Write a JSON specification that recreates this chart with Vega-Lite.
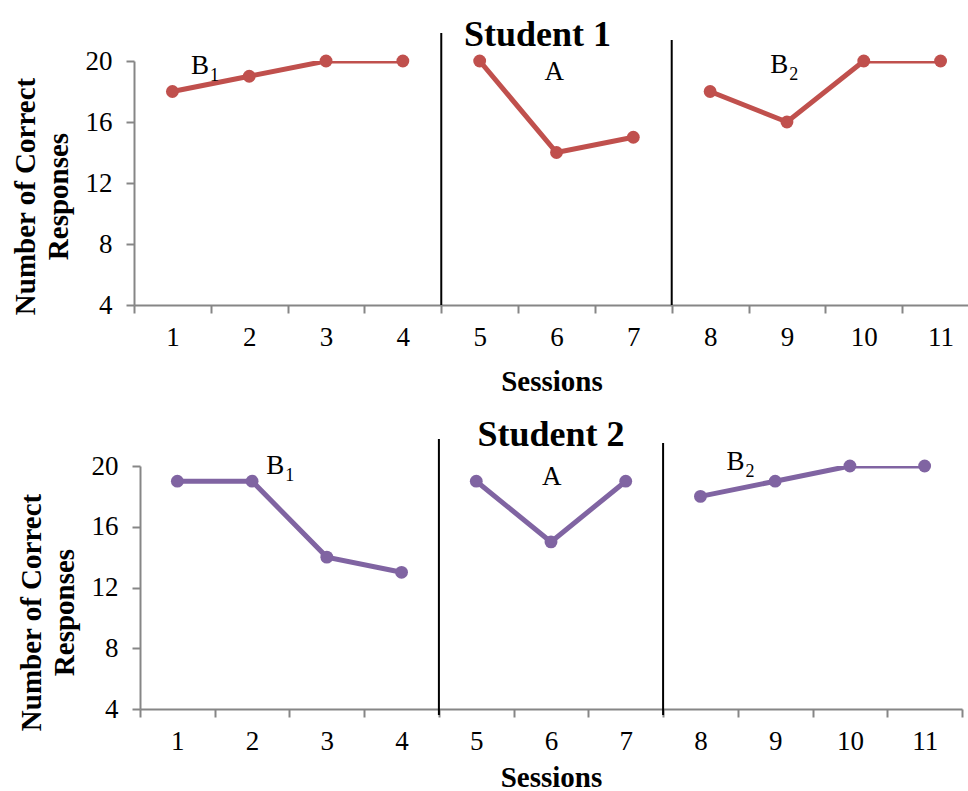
{
  "$schema": "https://vega.github.io/schema/vega-lite/v6.json",
  "padding": {"left": 10, "top": 16, "right": 0, "bottom": 0},
  "background": "white",
  "center": true,
  "spacing": 20,
  "datasets": {
    "scores": [
      {"student": 1, "session": 1, "score": 18, "phase": "B1"},
      {"student": 1, "session": 2, "score": 19, "phase": "B1"},
      {"student": 1, "session": 3, "score": 20, "phase": "B1"},
      {"student": 1, "session": 4, "score": 20, "phase": "B1"},
      {"student": 1, "session": 5, "score": 20, "phase": "A"},
      {"student": 1, "session": 6, "score": 14, "phase": "A"},
      {"student": 1, "session": 7, "score": 15, "phase": "A"},
      {"student": 1, "session": 8, "score": 18, "phase": "B2"},
      {"student": 1, "session": 9, "score": 16, "phase": "B2"},
      {"student": 1, "session": 10, "score": 20, "phase": "B2"},
      {"student": 1, "session": 11, "score": 20, "phase": "B2"},
      {"student": 2, "session": 1, "score": 19, "phase": "B1"},
      {"student": 2, "session": 2, "score": 19, "phase": "B1"},
      {"student": 2, "session": 3, "score": 14, "phase": "B1"},
      {"student": 2, "session": 4, "score": 13, "phase": "B1"},
      {"student": 2, "session": 5, "score": 19, "phase": "A"},
      {"student": 2, "session": 6, "score": 15, "phase": "A"},
      {"student": 2, "session": 7, "score": 19, "phase": "A"},
      {"student": 2, "session": 8, "score": 18, "phase": "B2"},
      {"student": 2, "session": 9, "score": 19, "phase": "B2"},
      {"student": 2, "session": 10, "score": 20, "phase": "B2"},
      {"student": 2, "session": 11, "score": 20, "phase": "B2"}
    ],
    "phases": [
      {"student": 1, "session": 4.5, "score": 4, "score2": 21.84},
      {"student": 1, "session": 7.5, "score": 4, "score2": 21.38},
      {"student": 2, "session": 4.5, "score": 3.6, "score2": 21.78},
      {"student": 2, "session": 7.5, "score": 3.6, "score2": 21.51}
    ],
    "labels": [
      {"student": 1, "session": 1.36, "score": 19.67, "label": "B", "sub": "1"},
      {"student": 1, "session": 5.97, "score": 19.28, "label": "A", "sub": ""},
      {"student": 1, "session": 8.9, "score": 19.77, "label": "B", "sub": "2"},
      {"student": 2, "session": 2.31, "score": 20.0, "label": "B", "sub": "1"},
      {"student": 2, "session": 6.01, "score": 19.28, "label": "A", "sub": ""},
      {"student": 2, "session": 8.47, "score": 20.26, "label": "B", "sub": "2"}
    ]
  },
  "vconcat": [
    {
      "width": 835,
      "height": 244,
      "title": {"text": "Student 1", "dx": -14, "offset": -22},
      "encoding": {
        "x": {
          "field": "session", "type": "quantitative",
          "scale": {"domain": [0.5, 11.37], "nice": false, "zero": false},
          "axis": {
            "title": "Sessions",
            "values": [0.5, 1, 1.5, 2, 2.5, 3, 3.5, 4, 4.5, 5, 5.5, 6, 6.5, 7, 7.5, 8, 8.5, 9, 9.5, 10, 10.5, 11],
            "labelExpr": "datum.value % 1 === 0 ? format(datum.value, 'd') : ''",
            "tickOpacity": {"condition": {"test": "datum.value % 1 === 0", "value": 0}, "value": 1},
            "tickSize": 8, "labelPadding": 11, "titlePadding": 17
          }
        },
        "y": {
          "field": "score", "type": "quantitative",
          "scale": {"domain": [4, 20], "nice": false, "zero": false},
          "axis": {
            "title": ["Number of Correct", "Responses"],
            "values": [4, 8, 12, 16, 20],
            "tickSize": 8, "labelPadding": 14, "titlePadding": 12,
            "titleY": 135
          }
        }
      },
      "layer": [
        {
          "data": {"name": "phases"},
          "transform": [{"filter": "datum.student === 1"}],
          "mark": {"type": "rule", "color": "black", "strokeWidth": 2},
          "encoding": {"y2": {"field": "score2"}}
        },
        {
          "data": {"name": "scores"},
          "transform": [{"filter": "datum.student === 1"}],
          "mark": {"type": "line", "color": "#C0504D", "strokeWidth": 5, "clip": true},
          "encoding": {"detail": {"field": "phase"}}
        },
        {
          "data": {"name": "scores"},
          "transform": [{"filter": "datum.student === 1"}],
          "mark": {"type": "circle", "color": "#C0504D", "size": 165, "opacity": 1}
        },
        {
          "data": {"name": "labels"},
          "transform": [{"filter": "datum.student === 1"}],
          "mark": {"type": "text", "font": "Liberation Serif", "fontSize": 27, "align": "center", "baseline": "middle", "color": "black"},
          "encoding": {"text": {"field": "label"}}
        },
        {
          "data": {"name": "labels"},
          "transform": [{"filter": "datum.student === 1"}],
          "mark": {"type": "text", "font": "Liberation Serif", "fontSize": 18, "align": "left", "baseline": "middle", "dx": 10, "dy": 10, "color": "black"},
          "encoding": {"text": {"field": "sub"}}
        }
      ]
    },
    {
      "width": 822,
      "height": 243,
      "title": {"text": "Student 2", "dx": 0, "offset": -16},
      "encoding": {
        "x": {
          "field": "session", "type": "quantitative",
          "scale": {"domain": [0.5, 11.5], "nice": false, "zero": false},
          "axis": {
            "title": "Sessions",
            "values": [0.5, 1, 1.5, 2, 2.5, 3, 3.5, 4, 4.5, 5, 5.5, 6, 6.5, 7, 7.5, 8, 8.5, 9, 9.5, 10, 10.5, 11, 11.5],
            "labelExpr": "datum.value % 1 === 0 ? format(datum.value, 'd') : ''",
            "tickOpacity": {"condition": {"test": "datum.value % 1 === 0", "value": 0}, "value": 1},
            "tickSize": 8, "labelPadding": 11, "titlePadding": 9
          }
        },
        "y": {
          "field": "score", "type": "quantitative",
          "scale": {"domain": [4, 20], "nice": false, "zero": false},
          "axis": {
            "title": ["Number of Correct", "Responses"],
            "values": [4, 8, 12, 16, 20],
            "tickSize": 8, "labelPadding": 14, "titlePadding": 12,
            "titleY": 146
          }
        }
      },
      "layer": [
        {
          "data": {"name": "phases"},
          "transform": [{"filter": "datum.student === 2"}],
          "mark": {"type": "rule", "color": "black", "strokeWidth": 2},
          "encoding": {"y2": {"field": "score2"}}
        },
        {
          "data": {"name": "scores"},
          "transform": [{"filter": "datum.student === 2"}],
          "mark": {"type": "line", "color": "#8064A2", "strokeWidth": 5, "clip": true},
          "encoding": {"detail": {"field": "phase"}}
        },
        {
          "data": {"name": "scores"},
          "transform": [{"filter": "datum.student === 2"}],
          "mark": {"type": "circle", "color": "#8064A2", "size": 165, "opacity": 1}
        },
        {
          "data": {"name": "labels"},
          "transform": [{"filter": "datum.student === 2"}],
          "mark": {"type": "text", "font": "Liberation Serif", "fontSize": 27, "align": "center", "baseline": "middle", "color": "black"},
          "encoding": {"text": {"field": "label"}}
        },
        {
          "data": {"name": "labels"},
          "transform": [{"filter": "datum.student === 2"}],
          "mark": {"type": "text", "font": "Liberation Serif", "fontSize": 18, "align": "left", "baseline": "middle", "dx": 10, "dy": 10, "color": "black"},
          "encoding": {"text": {"field": "sub"}}
        }
      ]
    }
  ],
  "config": {
    "view": {"stroke": null},
    "axis": {
      "grid": false,
      "domainColor": "#868686", "domainWidth": 2,
      "tickColor": "#868686", "tickWidth": 2,
      "labelFont": "Liberation Serif", "labelFontSize": 27, "labelColor": "black",
      "titleFont": "Liberation Serif", "titleFontSize": 29, "titleFontWeight": "bold", "titleColor": "black",
      "titleLineHeight": 33
    },
    "title": {"font": "Liberation Serif", "fontSize": 36, "fontWeight": "bold", "color": "black", "anchor": "middle"}
  }
}
